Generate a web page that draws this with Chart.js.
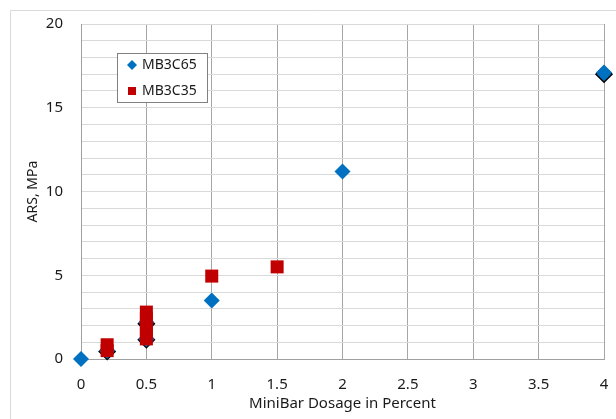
<!DOCTYPE html>
<html>
<head>
<meta charset="utf-8">
<script src="https://cdn.jsdelivr.net/npm/chart.js@4"></script>
<style>
html,body{margin:0;padding:0;background:#fff;}
#wrap{position:relative;width:616px;height:419px;}
</style>
</head>
<body>
<div id="wrap"><canvas id="c" width="616" height="419"></canvas></div>
<script>
// Data
const mb3c65X = [0, 0.2, 0.5, 0.5, 1, 2, 4];
const mb3c65Y = [0, 0.5, 1.2, 2.2, 3.5, 11.2, 17.1];
const mb3c35X = [0.2, 0.2, 0.5, 0.5, 0.5, 0.5, 0.5, 1, 1.5];
const mb3c35Y = [0.5, 0.85, 1.2, 1.6, 2.0, 2.4, 2.8, 4.95, 5.5];
// duplicate (outlined) specimens hidden behind other marks
const dupX = [0.2, 0.5, 0.5, 4];
const dupY = [0.45, 1.15, 2.1, 17.0];
const xTicks = [0, 0.5, 1, 1.5, 2, 2.5, 3, 3.5, 4];
const yLabelTicks = [0, 5, 10, 15, 20];

const toPts = (xs, ys) => xs.map((x, i) => ({x: x, y: ys[i]}));
const FONT = "'Noto Sans', 'Liberation Sans', sans-serif";
const BLUE = '#0070c0', RED = '#c00000';

const frame = {
  id: 'frame',
  beforeDraw(chart) {
    const ctx = chart.ctx;
    ctx.save();
    ctx.fillStyle = '#fff';
    ctx.fillRect(0, 0, chart.width, chart.height);
    ctx.strokeStyle = '#d9d9d9';
    ctx.lineWidth = 1;
    ctx.beginPath();
    ctx.moveTo(10.5, 419);
    ctx.lineTo(10.5, 10.5);
    ctx.lineTo(616, 10.5);
    ctx.stroke();
    ctx.restore();
  }
};

const legendBox = {
  id: 'legendBox',
  afterDraw(chart) {
    const ctx = chart.ctx;
    ctx.save();
    ctx.fillStyle = '#fff';
    ctx.fillRect(117, 53, 91, 50);
    ctx.strokeStyle = '#808080';
    ctx.lineWidth = 1;
    ctx.strokeRect(117.5, 53.5, 90, 49);
    ctx.fillStyle = BLUE;
    ctx.beginPath();
    ctx.moveTo(132, 60); ctx.lineTo(137, 65); ctx.lineTo(132, 70); ctx.lineTo(127, 65);
    ctx.closePath(); ctx.fill();
    ctx.fillStyle = RED;
    ctx.fillRect(128, 87, 8, 8);
    ctx.fillStyle = '#1a1a1a';
    ctx.font = "14px " + FONT;
    ctx.textBaseline = 'middle';
    ctx.textAlign = 'left';
    ctx.fillText(chart.data.datasets[1].label, 142, 65);
    ctx.fillText(chart.data.datasets[0].label, 142, 91);
    ctx.restore();
  }
};

new Chart(document.getElementById('c'), {
  type: 'scatter',
  data: {
    datasets: [
      {
        label: 'MB3C35',
        order: 1,
        clip: false,
        data: toPts(mb3c35X, mb3c35Y),
        pointStyle: 'rect',
        pointRadius: 9.2,
        backgroundColor: RED,
        borderColor: RED,
        borderWidth: 0
      },
      {
        label: 'MB3C65',
        order: 2,
        clip: false,
        data: toPts(mb3c65X, mb3c65Y),
        pointStyle: 'rectRot',
        pointRadius: 8,
        backgroundColor: BLUE,
        borderColor: BLUE,
        borderWidth: 0
      },
      {
        label: 'dup',
        order: 3,
        clip: false,
        data: toPts(dupX, dupY),
        pointStyle: 'rectRot',
        pointRadius: 8,
        backgroundColor: BLUE,
        borderColor: '#000',
        borderWidth: 1.5
      }
    ]
  },
  options: {
    responsive: false,
    animation: false,
    layout: {padding: {left: 0, top: 24, right: 12, bottom: 0}},
    plugins: {legend: {display: false}, tooltip: {enabled: false}},
    scales: {
      x: {
        type: 'linear',
        min: 0, max: 4,
        afterBuildTicks(axis) { axis.ticks = xTicks.map(v => ({value: v})); },
        afterFit(axis) { axis.height = 60; axis.paddingLeft = 0; axis.paddingRight = 0; },
        grid: {color: '#a6a6a6', drawTicks: false},
        border: {color: '#a0a0a0'},
        ticks: {
          padding: 17,
          color: '#1a1a1a',
          font: {family: FONT, size: 15},
          callback: v => String(v)
        },
        title: {
          display: true,
          text: 'MiniBar Dosage in Percent',
          color: '#1a1a1a',
          font: {family: FONT, size: 15},
          padding: {top: 6, bottom: 6}
        }
      },
      y: {
        min: 0, max: 20,
        ticks: {
          stepSize: 1,
          autoSkip: false,
          padding: 18,
          color: '#1a1a1a',
          font: {family: FONT, size: 15},
          callback: v => yLabelTicks.includes(v) ? String(v) : ''
        },
        afterFit(axis) { axis.width = 81; axis.paddingTop = 0; axis.paddingBottom = 0; },
        grid: {color: '#d9d9d9', drawTicks: false},
        border: {color: '#a0a0a0'},
        title: {
          display: true,
          text: 'ARS, MPa',
          color: '#1a1a1a',
          font: {family: FONT, size: 14},
          padding: {top: 25, bottom: 25}
        }
      }
    }
  },
  plugins: [frame, legendBox]
});
</script>
</body>
</html>
